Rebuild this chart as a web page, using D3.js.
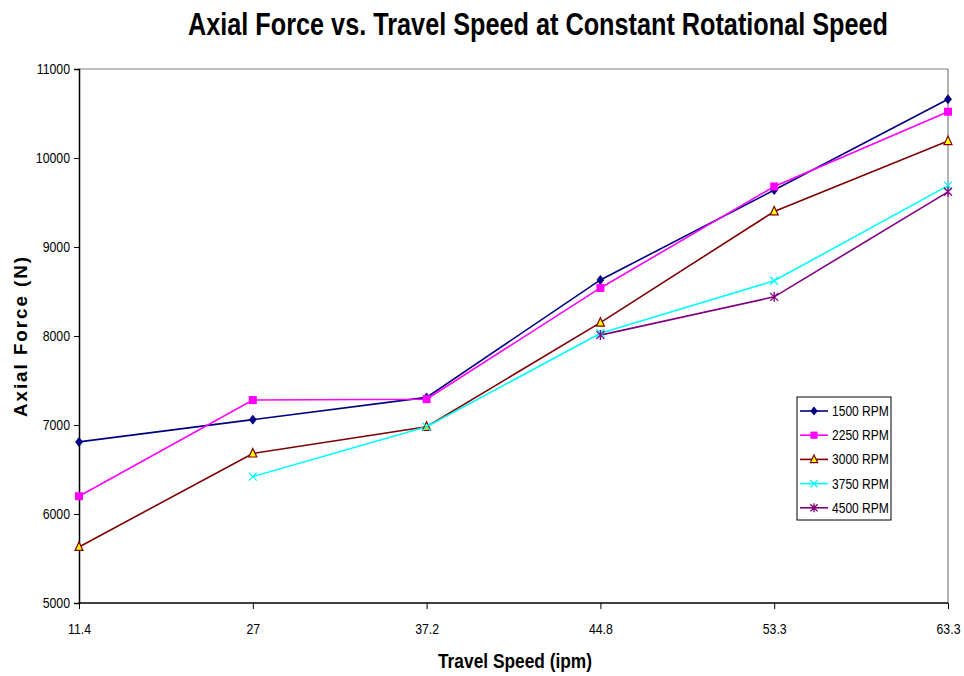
<!DOCTYPE html>
<html>
<head>
<meta charset="utf-8">
<script src="https://cdn.jsdelivr.net/npm/d3@7/dist/d3.min.js"></script>
<style>
  html, body { margin: 0; padding: 0; background: #fff; }
  svg { display: block; }
</style>
</head>
<body>
<svg id="chart" width="964" height="676"></svg>
<script>
// Travel speeds (ipm), plotted as evenly spaced categories
const speeds = ["11.4", "27", "37.2", "44.8", "53.3", "63.3"];

// Axial force (N) per rotational speed; null = not measured
const rpm1500 = [6810, 7060, 7310, 8630, 9640, 10660];
const rpm2250 = [6200, 7280, 7290, 8540, 9680, 10520];
const rpm3000 = [5630, 6680, 6980, 8150, 9400, 10190];
const rpm3750 = [null, 6420, 6980, 8030, 8620, 9690];
const rpm4500 = [null, null, null, 8010, 8440, 9620];

const yTicks = [5000, 6000, 7000, 8000, 9000, 10000, 11000];

const seriesNames = ["1500 RPM", "2250 RPM", "3000 RPM", "3750 RPM", "4500 RPM"];
const seriesValues = [rpm1500, rpm2250, rpm3000, rpm3750, rpm4500];
const seriesColors = ["#000080", "#ff00ff", "#800000", "#00ffff", "#800080"];
const seriesMarkers = ["diamond", "square", "triangle", "x", "star"];

const FONT = "'Liberation Sans', Arial, sans-serif";

const svg = d3.select("#chart");
const margin = { left: 79, right: 16, top: 69, bottom: 73 };
const W = 964, H = 676;

const x = d3.scalePoint().domain(speeds).range([margin.left, W - margin.right]);
const y = d3.scaleLinear().domain([5000, 11000]).range([H - margin.bottom, margin.top]);

// squeeze text horizontally to a narrow face
function condense(sel, k) {
  sel.each(function () {
    const w = this.getComputedTextLength();
    d3.select(this).attr("textLength", w * k).attr("lengthAdjust", "spacingAndGlyphs");
  });
}

// plot frame: grey top and right edges
svg.append("line")
  .attr("x1", margin.left).attr("x2", W - margin.right)
  .attr("y1", margin.top).attr("y2", margin.top)
  .attr("stroke", "#808080").attr("stroke-width", 1.2);
svg.append("line")
  .attr("x1", W - margin.right).attr("x2", W - margin.right)
  .attr("y1", margin.top).attr("y2", H - margin.bottom)
  .attr("stroke", "#808080").attr("stroke-width", 1.2);

// axes
const yAxis = svg.append("g")
  .attr("transform", `translate(${margin.left},0)`)
  .call(d3.axisLeft(y).tickValues(yTicks).tickFormat(d3.format("d")).tickSize(5).tickPadding(4));
const xAxis = svg.append("g")
  .attr("transform", `translate(0,${H - margin.bottom})`)
  .call(d3.axisBottom(x).tickSize(6).tickPadding(14));

[yAxis, xAxis].forEach(g => {
  g.select(".domain").attr("stroke", "#000").attr("stroke-width", 1.5);
  g.selectAll(".tick line").attr("stroke", "#000");
  g.selectAll("text")
    .attr("fill", "#000")
    .style("font-family", FONT)
    .style("font-size", "15px")
    .call(condense, 0.82);
});
xAxis.select(".domain").attr("d", `M${margin.left},0H${W - margin.right}`);

// marker drawing
function drawMarker(g, type, color, cx, cy, scale) {
  const s = scale || 1;
  if (type === "diamond") {
    g.append("path")
      .attr("d", `M${cx},${cy - 4.5 * s}L${cx + 3.5 * s},${cy}L${cx},${cy + 4.5 * s}L${cx - 3.5 * s},${cy}Z`)
      .attr("fill", color).attr("stroke", color).attr("stroke-width", 0.8);
  } else if (type === "square") {
    g.append("rect")
      .attr("x", cx - 4 * s).attr("y", cy - 4 * s)
      .attr("width", 8 * s).attr("height", 8 * s)
      .attr("fill", color);
  } else if (type === "triangle") {
    g.append("path")
      .attr("d", `M${cx},${cy - 5 * s}L${cx + 4 * s},${cy + 3.5 * s}L${cx - 4 * s},${cy + 3.5 * s}Z`)
      .attr("fill", "#ffff00").attr("stroke", color).attr("stroke-width", 1.2);
  } else if (type === "x") {
    g.append("path")
      .attr("d", `M${cx - 4 * s},${cy - 4 * s}L${cx + 4 * s},${cy + 4 * s}M${cx + 4 * s},${cy - 4 * s}L${cx - 4 * s},${cy + 4 * s}`)
      .attr("stroke", color).attr("stroke-width", 1.3);
  } else if (type === "star") {
    g.append("path")
      .attr("d", `M${cx - 4 * s},${cy - 4 * s}L${cx + 4 * s},${cy + 4 * s}M${cx + 4 * s},${cy - 4 * s}L${cx - 4 * s},${cy + 4 * s}M${cx},${cy - 5 * s}L${cx},${cy + 5 * s}`)
      .attr("stroke", color).attr("stroke-width", 1.3);
  }
}

const line = d3.line()
  .defined(d => d.v !== null)
  .x(d => x(d.s))
  .y(d => y(d.v));

const plot = svg.append("g");
seriesValues.forEach((vals, i) => {
  const pts = vals.map((v, j) => ({ s: speeds[j], v }));
  plot.append("path")
    .datum(pts)
    .attr("d", line)
    .attr("fill", "none")
    .attr("stroke", seriesColors[i])
    .attr("stroke-width", 1.6);
});
seriesValues.forEach((vals, i) => {
  const g = plot.append("g");
  vals.forEach((v, j) => {
    if (v !== null) drawMarker(g, seriesMarkers[i], seriesColors[i], x(speeds[j]), y(v));
  });
});

// legend
const lg = svg.append("g").attr("transform", "translate(797,397)");
lg.append("rect")
  .attr("width", 94).attr("height", 123)
  .attr("fill", "#fff").attr("stroke", "#000").attr("stroke-width", 1);
seriesNames.forEach((name, i) => {
  const yy = 14 + i * 24.2;
  lg.append("line")
    .attr("x1", 3).attr("x2", 31).attr("y1", yy).attr("y2", yy)
    .attr("stroke", seriesColors[i]).attr("stroke-width", 1.6);
  drawMarker(lg, seriesMarkers[i], seriesColors[i], 17, yy, 0.9);
  lg.append("text")
    .attr("x", 35).attr("y", yy + 5)
    .style("font-family", FONT)
    .style("font-size", "14.5px")
    .text(name)
    .call(condense, 0.83);
});

// titles
svg.append("text")
  .attr("x", 538).attr("y", 35)
  .attr("text-anchor", "middle")
  .attr("textLength", 700).attr("lengthAdjust", "spacingAndGlyphs")
  .style("font-family", FONT)
  .style("font-weight", "bold").style("font-size", "31px")
  .text("Axial Force vs. Travel Speed at Constant Rotational Speed");

svg.append("text")
  .attr("x", 515).attr("y", 668)
  .attr("text-anchor", "middle")
  .attr("textLength", 154).attr("lengthAdjust", "spacingAndGlyphs")
  .style("font-family", FONT)
  .style("font-weight", "bold").style("font-size", "21px")
  .text("Travel Speed (ipm)");

svg.append("text")
  .attr("transform", "translate(27,336) rotate(-90)")
  .attr("text-anchor", "middle")
  .attr("textLength", 162).attr("lengthAdjust", "spacingAndGlyphs")
  .style("font-family", FONT)
  .style("font-weight", "bold").style("font-size", "19px")
  .style("letter-spacing", "2px")
  .text("Axial Force (N)");
</script>
</body>
</html>
